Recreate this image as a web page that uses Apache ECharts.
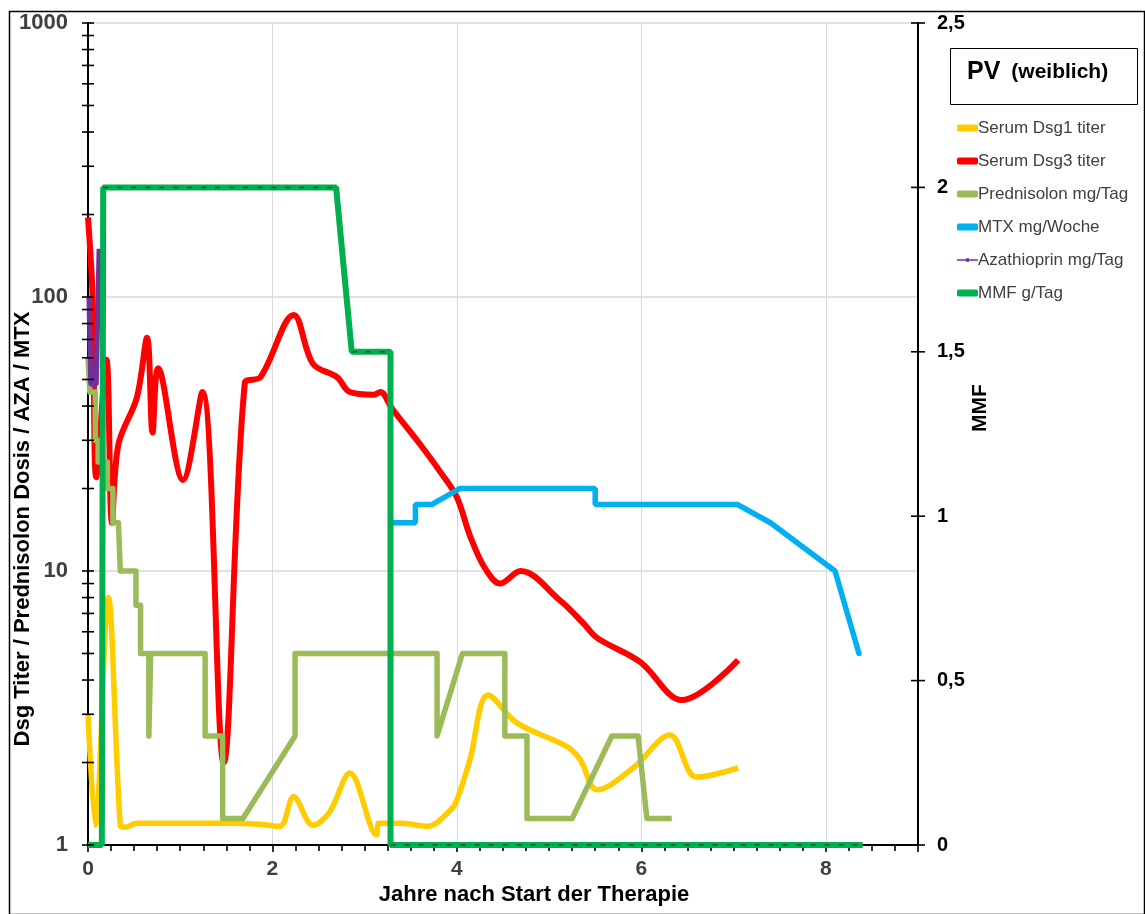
<!DOCTYPE html>
<html>
<head>
<meta charset="utf-8">
<script src="https://cdn.jsdelivr.net/npm/echarts@6/dist/echarts.min.js"></script>
<style>
html,body{margin:0;padding:0;background:#fff;}
#chart{width:1145px;height:914px;}
</style>
</head>
<body>
<div id="chart"></div>
<script>
// ---- Data (x = Jahre nach Start der Therapie) ----
const seriesNames = ['Serum Dsg1 titer','Serum Dsg3 titer','Prednisolon mg/Tag','MTX mg/Woche','Azathioprin mg/Tag','MMF g/Tag'];

const dsg1 = [[0,3.0],[0.08,1.18],[0.22,8.0],[0.35,1.18],[0.4,1.16],[0.53,1.2],[1.0,1.2],[1.5,1.2],[1.87,1.19],[2.08,1.17],[2.23,1.5],[2.44,1.18],[2.62,1.32],[2.84,1.83],[3.13,1.09],[3.15,1.2],[3.4,1.2],[3.68,1.17],[3.93,1.34],[4.0,1.46],[4.14,2.04],[4.34,3.53],[4.65,2.79],[5.2,2.28],[5.34,2.04],[5.52,1.59],[5.91,1.91],[6.31,2.52],[6.6,1.77],[7.05,1.91]];

const dsg3 = [[0,195],[0.05,100],[0.09,22],[0.2,59],[0.26,15],[0.33,29],[0.53,43],[0.64,71],[0.7,32],[0.76,55],[1.03,21.5],[1.24,45],[1.47,2.0],[1.70,48.5],[1.87,51],[2.23,86],[2.44,57],[2.70,51],[2.84,45],[3.1,44],[3.17,45],[3.3,39],[3.6,29],[3.82,23],[4.0,18.6],[4.14,13.5],[4.3,10.3],[4.47,9],[4.69,10],[5.12,7.8],[5.37,6.45],[5.52,5.7],[5.99,4.65],[6.44,3.38],[7.05,4.73]];

const prednisolon = [[0,60],[0.02,45],[0.08,45],[0.08,30],[0.11,30],[0.11,25],[0.21,25],[0.21,20],[0.27,20],[0.27,15],[0.33,15],[0.35,10],[0.52,10],[0.52,7.5],[0.57,7.5],[0.57,5],[0.66,5],[0.66,2.5],[0.68,2.5],[0.68,5],[1.27,5],[1.27,2.5],[1.46,2.5],[1.46,1.25],[1.68,1.25],[2.245,2.5],[2.245,5],[3.785,5],[3.785,2.5],[4.06,5],[4.52,5],[4.52,2.5],[4.76,2.5],[4.76,1.25],[5.25,1.25],[5.68,2.5],[5.965,2.5],[6.06,1.25],[6.33,1.25]];

const mtx = [[3.28,15],[3.55,15],[3.55,17.5],[3.73,17.5],[4.03,20],[5.5,20],[5.5,17.5],[7.04,17.5],[7.4,15],[8.1,10],[8.36,5]];

const azathioprin = [[0.01,100],[0.03,100],[0.03,48],[0.09,48],[0.12,150]];

const mmf = [[0,0],[0.15,0],[0.165,2],[2.69,2],[2.86,1.5],[3.28,1.5],[3.28,0],[8.4,0]];

// ---- Axis ticks ----
const leftTickValues = [1,2,3,4,5,6,7,8,9,10,20,30,40,50,60,70,80,90,100,200,300,400,500,600,700,800,900,1000];
const rightTickValues = [0,0.5,1,1.5,2,2.5];
const X_MIN = 0, X_MAX = 9;

const colors = ['#FFCC00','#FF0000','#9BBB59','#00B0F0','#7030A0','#00B050'];

// horizontal segments of MMF (for the dark dash overlay)
const mmfDash = [];
for (let i = 0; i < mmf.length - 1; i++) {
  if (mmf[i][1] === mmf[i+1][1]) { mmfDash.push(mmf[i], mmf[i+1], [mmf[i+1][0], null]); }
}

const FONT = 'Liberation Sans, Arial, sans-serif';
const chart = echarts.init(document.getElementById('chart'));

function crossTick(xVal, half) {
  return function(params, api) {
    const p = api.coord([xVal, api.value(1)]);
    return {type:'line', shape:{x1:p[0]-half, y1:p[1], x2:p[0]+half, y2:p[1]},
      style:{stroke:'#000', lineWidth:1.6}};
  };
}

const option = {
  animation: false,
  backgroundColor: '#fff',
  textStyle: {fontFamily: FONT},
  grid: {left: 88, right: 227, top: 23, bottom: 69, containLabel: false, outerBoundsMode: 'none'},
  xAxis: {
    type: 'value', min: X_MIN, max: X_MAX, interval: 2,
    name: 'Jahre nach Start der Therapie', nameLocation: 'middle', nameGap: 39, nameMoveOverlap: false,
    nameTextStyle: {fontFamily: FONT, fontWeight: 'bold', fontSize: 22, color: '#000', padding: [0,0,0,62]},
    axisLine: {show: true, onZero: false, lineStyle: {color: '#000', width: 2}},
    axisTick: {show: true, inside: false, length: 7, lineStyle: {color: '#000', width: 1.6}},
    minorTick: {show: true, splitNumber: 8, length: 6, lineStyle: {color: '#000', width: 1.6}},
    axisLabel: {fontFamily: FONT, fontWeight: 'bold', fontSize: 21, color: '#404040', margin: 14, showMaxLabel: false},
    splitLine: {show: true, lineStyle: {color: '#d9d9d9', width: 1}}
  },
  yAxis: [{
    type: 'log', logBase: 10, min: 1, max: 1000,
    name: 'Dsg Titer / Prednisolon Dosis / AZA / MTX', nameLocation: 'middle', nameGap: 54, nameRotate: 90, nameMoveOverlap: false,
    nameTextStyle: {fontFamily: FONT, fontWeight: 'bold', fontSize: 22, color: '#000', padding: [0,190,0,0]},
    axisLine: {show: true, lineStyle: {color: '#000', width: 2}},
    axisTick: {show: false},
    axisLabel: {fontFamily: FONT, fontWeight: 'bold', fontSize: 22, color: '#404040', margin: 20,
      formatter: v => String(Math.round(v))},
    splitLine: {show: true, lineStyle: {color: '#d9d9d9', width: 1.5}}
  }, {
    type: 'value', min: 0, max: 2.5, interval: 0.5, position: 'right',
    name: 'MMF', nameLocation: 'middle', nameGap: 52, nameRotate: 90, nameMoveOverlap: false,
    nameTextStyle: {fontFamily: FONT, fontWeight: 'bold', fontSize: 21, color: '#000', padding: [0,0,0,52]},
    axisLine: {show: true, lineStyle: {color: '#000', width: 2}},
    axisTick: {show: false},
    axisLabel: {fontFamily: FONT, fontWeight: 'bold', fontSize: 20, color: '#000', margin: 19,
      formatter: v => String(v).replace('.', ',')},
    splitLine: {show: false}
  }],
  legend: {
    orient: 'vertical', left: 952, top: 114,
    itemWidth: 21, itemHeight: 7, itemGap: 15,
    textStyle: {fontFamily: FONT, fontSize: 17, color: '#404040', padding: [0,0,0,-5], lineHeight: 18},
    data: seriesNames.map((n, i) => i === 4
      ? {name: n, icon: 'path://M0,4 L20,4 L20,5.5 L0,5.5 Z M8.5,3 L11.5,3 L11.5,6.5 L8.5,6.5 Z'}
      : {name: n, icon: 'roundRect'})
  },
  graphic: [
    {type: 'rect', left: 7, top: 9, shape: {width: 1135, height: 903}, style: {fill: 'none', stroke: '#000', lineWidth: 1.5}, silent: true, z: 100},
    {type: 'rect', left: 950, top: 48, shape: {width: 187, height: 56}, style: {fill: '#fff', stroke: '#000', lineWidth: 1}, z: 100},
    {type: 'text', left: 967, top: 60, z: 101, style: {
      text: '{a|PV}{b|(weiblich)}', fill: '#000',
      rich: {a: {fontFamily: FONT, fontWeight: 'bold', fontSize: 25, fill: '#000', padding: [0,11,0,0]},
             b: {fontFamily: FONT, fontWeight: 'bold', fontSize: 21, fill: '#000'}}}}
  ],
  series: [
    {name: seriesNames[0], type: 'line', yAxisIndex: 0, data: dsg1, smooth: 0.35, symbol: 'none',
      lineStyle: {color: colors[0], width: 5.5}, itemStyle: {color: colors[0]}},
    {name: seriesNames[1], type: 'line', yAxisIndex: 0, data: dsg3, smooth: 0.35, symbol: 'none',
      lineStyle: {color: colors[1], width: 6}, itemStyle: {color: colors[1]}},
    {name: seriesNames[2], type: 'line', yAxisIndex: 0, data: prednisolon, symbol: 'none',
      lineStyle: {color: colors[2], width: 5.5, join: 'round'}, itemStyle: {color: colors[2]}},
    {name: seriesNames[3], type: 'line', yAxisIndex: 0, data: mtx, symbol: 'none',
      lineStyle: {color: colors[3], width: 5.5, cap: 'round'}, itemStyle: {color: colors[3]}},
    {name: seriesNames[4], type: 'line', yAxisIndex: 0, data: azathioprin, symbol: 'none',
      lineStyle: {color: colors[4], width: 5}, itemStyle: {color: colors[4]}},
    {name: seriesNames[5], type: 'line', yAxisIndex: 1, data: mmf, symbol: 'none',
      lineStyle: {color: colors[5], width: 6}, itemStyle: {color: colors[5]}, z: 3},
    {type: 'line', yAxisIndex: 1, data: mmfDash, symbol: 'none', connectNulls: false, silent: true,
      lineStyle: {color: '#1d4a2b', width: 1.5, type: [5, 9]}, z: 4},
    {type: 'custom', yAxisIndex: 0, clip: false, silent: true, z: 5,
      data: leftTickValues.map(v => [X_MIN, v]), renderItem: crossTick(X_MIN, 6)},
    {type: 'custom', yAxisIndex: 1, clip: false, silent: true, z: 5,
      data: rightTickValues.map(v => [X_MAX, v]), renderItem: crossTick(X_MAX, 7)}
  ]
};
chart.setOption(option);
</script>
</body>
</html>
